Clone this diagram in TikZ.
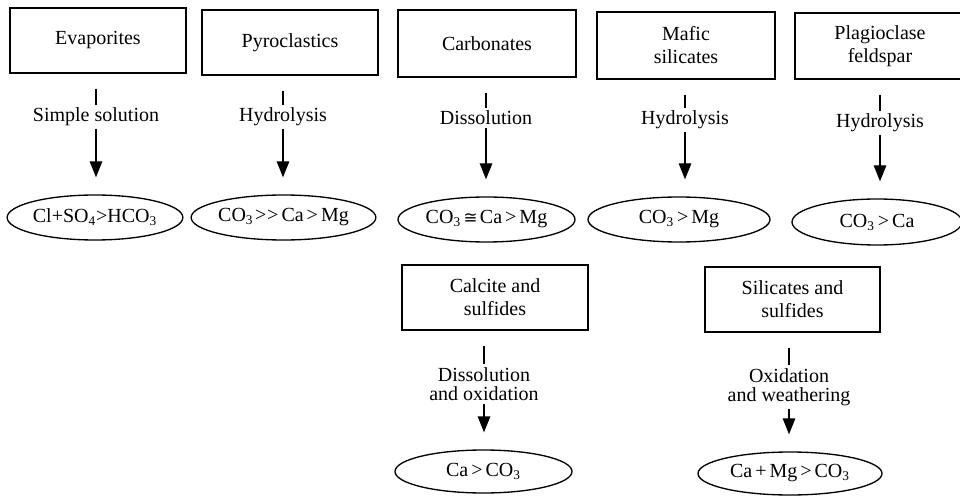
\documentclass[tikz,border=0pt]{standalone}
\usepackage{fontspec}
\setmainfont{Liberation Serif}
\newfontfamily\symbolfont{DejaVu Sans}
\usetikzlibrary{shapes.geometric, arrows.meta}

\newcommand{\morethan}{\kern1.8pt{>}\kern1.8pt}
\newcommand{\plusion}{\kern1.8pt{+}\kern1.8pt}

\tikzset{
  rock/.style={draw, line width=0.9pt, rectangle, inner sep=0pt, minimum height=39pt, align=center, font=\fontsize{12}{13.8}\selectfont},
  ion/.style={draw, line width=0.8pt, ellipse, inner sep=0pt, minimum height=27pt, font=\fontsize{12}{14}\selectfont},
  proc/.style={inner sep=1.5pt, align=center, font=\fontsize{12}{11.7}\selectfont},
  feed/.style={line width=0.8pt, shorten <=9pt},
  flow/.style={line width=0.8pt, -{Triangle[length=9.6pt,width=7.5pt]}, shorten >=10.2pt}
}

\begin{document}
\begin{tikzpicture}[x=0.6pt, y=-0.6pt]
\clip (0,0) rectangle (960,499);
%% rock boxes
\node[rock, minimum width=105.6pt] (evap) at (98,40.5) {Evaporites};
\node[rock, minimum width=105.6pt] (pyro) at (290,42.5) {Pyroclastics};
\node[rock, minimum width=106.8pt, minimum height=40.2pt] (carb) at (487,43.5) {Carbonates};
\node[rock, minimum width=106.8pt, minimum height=40.2pt] (mafic) at (686,45.5) {Mafic\\silicates};
\node[rock, minimum width=102pt, minimum height=39.6pt] (plag) at (880,46) {Plagioclase\\feldspar};
\node[rock, minimum width=111.6pt] (calc) at (495,297.5) {Calcite and\\sulfides};
\node[rock, minimum width=105pt] (silic) at (792.5,299.5) {Silicates and\\sulfides};
%% processes
\node[proc] (solu) at (96,117) {Simple solution};
\node[proc] (hydpyro) at (283,117) {Hydrolysis};
\node[proc] (diss) at (486,118) {Dissolution};
\node[proc] (hydmaf) at (685,120) {Hydrolysis};
\node[proc] (hydplag) at (880,123) {Hydrolysis};
\node[proc] (dissox) at (484,384) {Dissolution\\and oxidation};
\node[proc] (oxweath) at (789,387) {Oxidation\\and weathering};
%% water types
\node[ion, minimum width=104.4pt] (clso) at (95,217.5) {Cl+SO\textsubscript{4}{>}HCO\textsubscript{3}};
\node[ion, minimum width=106.2pt] (cocamg) at (283.5,217.5) {CO\textsubscript{3}\kern1pt{>}\kern0.5pt{>}\kern1.8pt Ca\morethan Mg};
\node[ion, minimum width=106.2pt] (coeq) at (486.5,219.5) {CO\textsubscript{3}\kern1.5pt{\symbolfont\fontsize{10}{12}\selectfont ≅}\kern1.5pt Ca\morethan Mg};
\node[ion, minimum width=109.2pt] (comg) at (679,219.5) {CO\textsubscript{3}\morethan Mg};
\node[ion, minimum width=102pt, minimum height=27.6pt] (coca) at (877,222) {CO\textsubscript{3}\morethan Ca};
\node[ion, minimum width=106.2pt, minimum height=25.8pt] (caco) at (483.5,471.5) {Ca\morethan CO\textsubscript{3}};
\node[ion, minimum width=110.4pt, minimum height=25.8pt] (camgco) at (790,473.5) {Ca\plusion Mg\morethan CO\textsubscript{3}};
%draw arrows
\draw[feed] (evap.south -| solu.north) -- (solu.north);
\draw[flow] (solu.south) -- (solu.south |- clso.north);
\draw[feed] (pyro.south -| hydpyro.north) -- (hydpyro.north);
\draw[flow] (hydpyro.south) -- (hydpyro.south |- cocamg.north);
\draw[feed] (carb.south -| diss.north) -- (diss.north);
\draw[flow] (diss.south) -- (diss.south |- coeq.north);
\draw[feed] (mafic.south -| hydmaf.north) -- (hydmaf.north);
\draw[flow] (hydmaf.south) -- (hydmaf.south |- comg.north);
\draw[feed] (plag.south -| hydplag.north) -- (hydplag.north);
\draw[flow] (hydplag.south) -- (hydplag.south |- coca.north);
\draw[feed] (calc.south -| dissox.north) -- (dissox.north);
\draw[flow] (dissox.south) -- (dissox.south |- caco.north);
\draw[feed] (silic.south -| oxweath.north) -- (oxweath.north);
\draw[flow] (oxweath.south) -- (oxweath.south |- camgco.north);
\end{tikzpicture}
\end{document}
